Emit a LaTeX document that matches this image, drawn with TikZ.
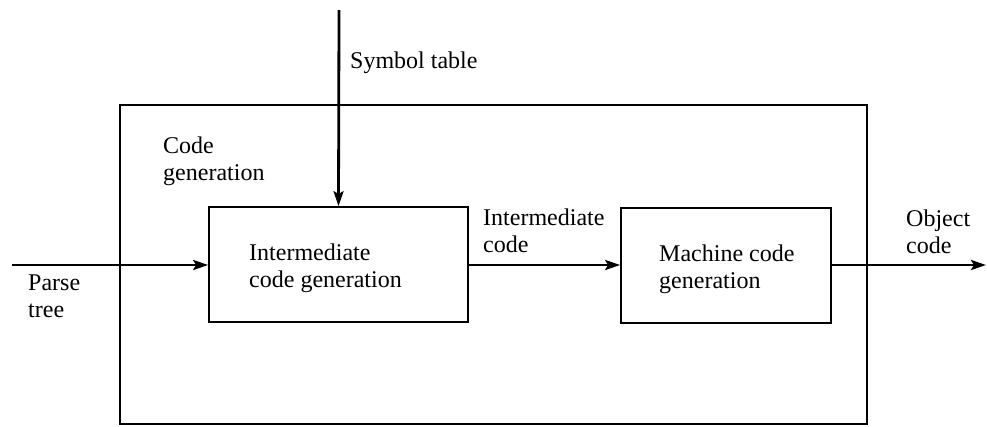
\documentclass[tikz,border=0pt]{standalone}
\usepackage{fontspec}
\setmainfont{Liberation Serif}
\usetikzlibrary{arrows.meta}
\begin{document}
\begin{tikzpicture}[x=1pt,y=-1pt,
  box/.style={draw, line width=1.7pt, inner sep=0pt},
  flow/.style={line width=2.8pt, -{Stealth[length=15pt,width=10pt,inset=3pt]}},
  lbl/.style={anchor=base west, align=left, inner sep=0pt,
              font=\fontsize{24}{27}\selectfont}]
  \useasboundingbox (0,0) rectangle (987,426);

  % blocks
  \node[box, minimum width=747pt, minimum height=319pt] (codegen) at (493.5,264.5) {};
  \node[box, minimum width=259pt, minimum height=115pt] (icg) at (338.5,264.5) {};
  \node[box, minimum width=210pt, minimum height=115pt] (mcg) at (726,265.5) {};

  % free ends of the flows
  \coordinate (symtab) at (339,10);
  \coordinate (parse) at (12,265);
  \coordinate (object) at (986,265);

  % flows
  \draw[flow] (symtab) -- (icg.north);
  \draw[flow] (parse) -- (parse -| icg.west);
  \draw[flow] (parse -| icg.east) -- (parse -| mcg.west);
  \draw[flow] (parse -| mcg.east) -- (object);

  % labels (anchored at the baseline of their last line)
  \node[lbl] (symlbl) at (350,68) {Symbol table};
  \node[lbl] (cglbl) at (163,180) {Code\\generation};
  \node[lbl] (ptlbl) at (28,317) {Parse\\tree};
  \node[lbl] (icglbl) at (249,287) {Intermediate\\code generation};
  \node[lbl] (iclbl) at (483,252) {Intermediate\\code};
  \node[lbl] (mcglbl) at (659,288) {Machine code\\generation};
  \node[lbl] (oclbl) at (906,253) {Object\\code};
\end{tikzpicture}
\end{document}
